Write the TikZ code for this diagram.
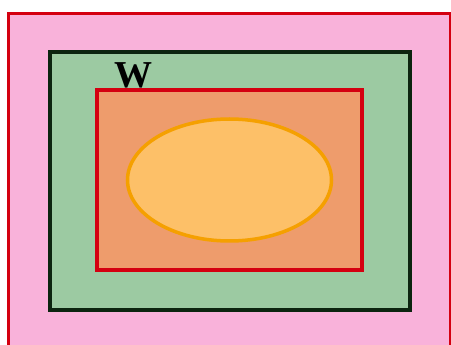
\documentclass[tikz,border=0pt]{standalone}
\usepackage{fontspec}
\setmainfont{Liberation Serif}
\definecolor{pinkfill}{HTML}{F9B2DA}
\definecolor{redline}{HTML}{D40010}
\definecolor{greenfill}{HTML}{9CCAA2}
\definecolor{greenline}{HTML}{0C2410}
\definecolor{orangefill}{HTML}{EE9C6C}
\definecolor{ellfill}{HTML}{FDC068}
\definecolor{elline}{HTML}{F5A000}
\begin{document}
\begin{tikzpicture}[x=1pt,y=-1pt,
  setbox/.style={line width=3.5pt}]
\useasboundingbox (0,0) rectangle (451,345);
\fill[white] (0,0) rectangle (451,345);
\begin{scope}
\clip (0,0) rectangle (451,345);
\draw[line width=3pt, draw=redline, fill=pinkfill] (8,14) rectangle (450,352);
\end{scope}
\draw[setbox, draw=greenline, fill=greenfill] (50,52) rectangle (410,310);
\draw[setbox, draw=redline, fill=orangefill] (97,90) rectangle (362,270);
\draw[line width=3.5pt, draw=elline, fill=ellfill] (229.5,180) ellipse [x radius=102, y radius=61];
\node[font=\fontsize{38}{38}\selectfont\bfseries, inner sep=0pt] (w) at (133.5,75) {W};
\end{tikzpicture}
\end{document}
